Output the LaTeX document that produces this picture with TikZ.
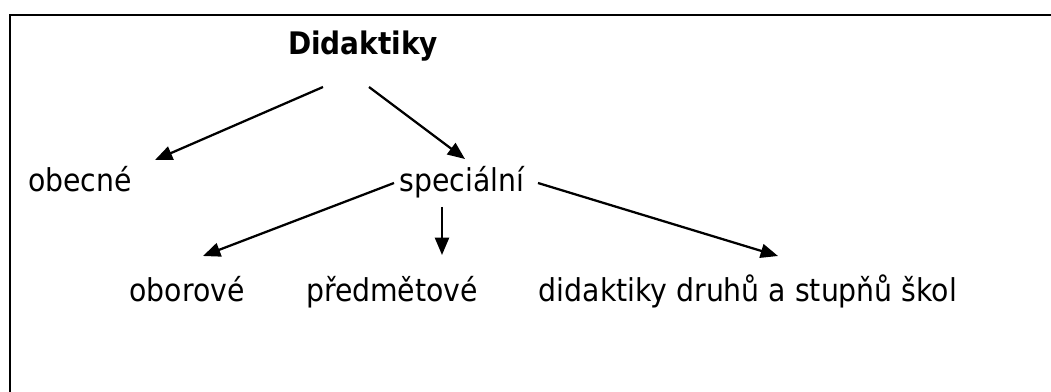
\documentclass[tikz,border=0pt]{standalone}
\usepackage{fontspec}
\setmainfont{DejaVu Sans Condensed}
\usetikzlibrary{arrows.meta}
\begin{document}
\begin{tikzpicture}[x=0.75pt,y=-0.75pt,
  lbl/.style={anchor=base,inner sep=0pt,font=\fontsize{23.6pt}{27pt}\selectfont},
  conn/.style={line width=1.7pt,-{Triangle[length=13pt,width=10.5pt]}},
  frame/.style={line width=1.5pt}]
\useasboundingbox (0,0) rectangle (1051,392);
\coordinate (fbl) at (10,393);
\coordinate (ftl) at (10,15);
\coordinate (ftr) at (1052,15);
\draw[frame] (fbl) -- (ftl) -- (ftr);
\node[lbl,font=\fontsize{23.3pt}{27pt}\selectfont\bfseries] (did) at (363,55) {Didaktiky};
\node[lbl] (obe) at (80,192) {obecné};
\node[lbl] (spe) at (462,192) {speciální};
\node[lbl] (obo) at (187,302) {oborové};
\node[lbl] (pre) at (392,302) {předmětové};
\node[lbl] (dru) at (748,302) {didaktiky druhů a stupňů škol};
\coordinate (d1) at (323,87);
\coordinate (d2) at (369,87);
\coordinate (o1) at (155,160);
\coordinate (s1) at (465,159);
\coordinate (s2) at (394,183);
\coordinate (s3) at (442,207);
\coordinate (s4) at (538,183);
\coordinate (b1) at (203,256);
\coordinate (p1) at (442,255);
\coordinate (r1) at (778,256);
\draw[conn] (d1) -- (o1);
\draw[conn] (d2) -- (s1);
\draw[conn] (s2) -- (b1);
\draw[conn] (s3) -- (p1);
\draw[conn] (s4) -- (r1);
\end{tikzpicture}
\end{document}
